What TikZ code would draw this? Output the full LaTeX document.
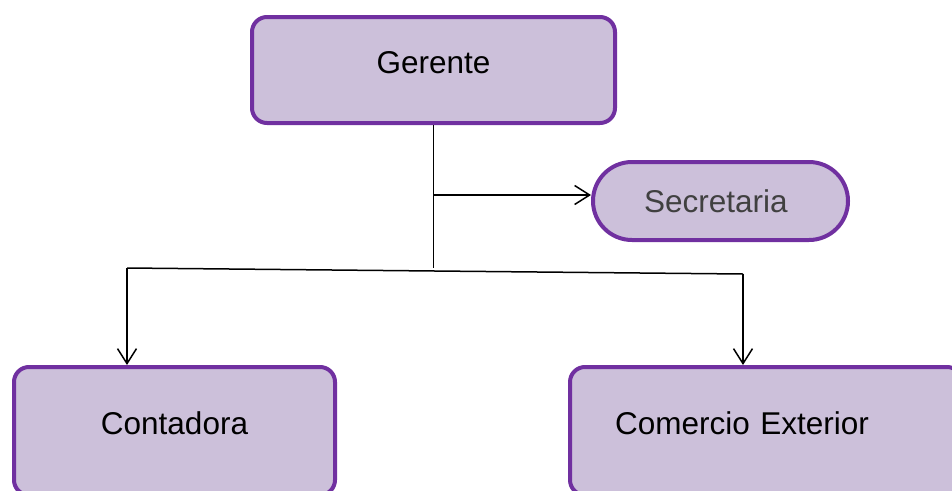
\documentclass[tikz,border=0pt]{standalone}
\usepackage{fontspec}
\setmainfont{Liberation Sans}
\usetikzlibrary{arrows.meta}
\usepackage{xcolor}
\definecolor{cargoborde}{HTML}{7030A0}
\definecolor{cargofondo}{HTML}{CCC0DA}
\definecolor{textogris}{HTML}{404040}
\newcommand{\tamletra}{\fontsize{31.5}{36}\selectfont}

\tikzset{
  cargo/.style={draw=cargoborde, fill=cargofondo, line width=4pt,
    rounded corners=15pt, inner sep=0pt, font=\tamletra,
    text height=23pt, text depth=16pt},
  flecha/.style={line width=1.5pt, -{Straight Barb[length=15pt,width=19pt,line width=1.5pt]}},
  linea/.style={line width=1.5pt}
}

\begin{document}
\begin{tikzpicture}[x=1pt,y=-1pt]

\useasboundingbox (0,0) rectangle (952,490);
\clip (0,0) rectangle (952,490);

% cargos
\node[cargo, minimum width=363pt, minimum height=106pt] (gerente) at (433.5,70) {Gerente};
\node[cargo, minimum width=255pt, minimum height=78pt, rounded corners=39pt,
  text height=, text depth=, text=textogris, text width=243pt, align=left,
  inner xsep=6pt] (secretaria) at (720.5,201) {\hspace*{45pt}Secretaria};
\node[cargo, minimum width=321pt, minimum height=128pt] (contadora) at (174.5,431) {Contadora};
\node[cargo, minimum width=392pt, minimum height=128pt, text width=302pt,
  align=left, inner xsep=45pt] (comercio) at (766,431) {Comercio Exterior};

% puntos de union
\coordinate (rama) at (gerente.south |- 0,195);
\coordinate (union) at (gerente.south |- 0,268);
\coordinate (izq) at (127,268);
\coordinate (der) at (743,274);

% conectores
\draw[linea] (gerente.south) -- (union);
\draw[flecha] (rama) -- (rama -| secretaria.west);
\draw[linea] (izq) -- (der);
\draw[flecha] (izq) -- (izq |- contadora.north);
\draw[flecha] (der) -- (der |- comercio.north);

\end{tikzpicture}
\end{document}
